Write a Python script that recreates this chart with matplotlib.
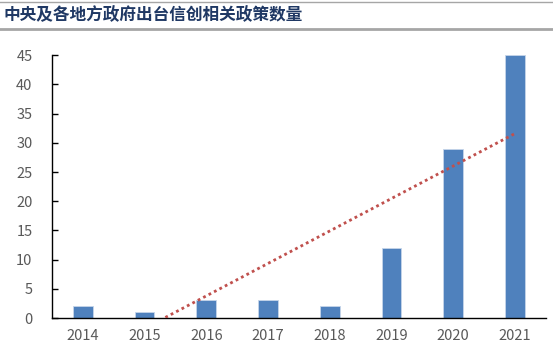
import numpy as np
import matplotlib.pyplot as plt
from matplotlib.lines import Line2D

plt.rcParams['font.family'] = ['Noto Sans CJK SC', 'DejaVu Sans']

years = ['2014', '2015', '2016', '2017', '2018', '2019', '2020', '2021']
policy_counts = [2, 1, 3, 3, 2, 12, 29, 45]
title = '中央及各地方政府出台信创相关政策数量'

fig = plt.figure(figsize=(5.53, 3.49), dpi=100)
ax = fig.add_axes([0.094, 0.0888, 0.893, 0.753])

x = np.arange(len(years))
ax.bar(x, policy_counts, width=0.32, color='#4F81BD', edgecolor='#C6D5EA', linewidth=0.6, zorder=2)

# linear trendline as in Excel
k, b = np.polyfit(x + 1, policy_counts, 1)
xt = np.linspace(x[0], x[-1], 200)
yt = k * (xt + 1) + b
mask = yt >= 0
ax.plot(xt[mask], yt[mask], color='#C0504D', linestyle=(0, (1, 1.2)), linewidth=2.0, zorder=3)

ax.set_xlim(-0.5, len(years) - 0.5)
ax.set_ylim(0, 45)
ax.set_yticks(range(0, 50, 5))
ax.set_xticks(x)
ax.set_xticklabels(years)

for s in ['top', 'right']:
    ax.spines[s].set_visible(False)
ax.spines['left'].set_linewidth(1.0)
ax.spines['bottom'].set_linewidth(1.0)
ax.tick_params(axis='y', direction='in', length=4, width=1.0, pad=14, labelsize=10.5, labelcolor='#595959')
ax.tick_params(axis='x', length=0, pad=8, labelsize=10.5, labelcolor='#595959')

fig.text(0.006, 0.957, title, fontsize=12, fontweight='semibold', color='#1F3864', va='center', ha='left')
fig.add_artist(Line2D([0, 1], [0.994, 0.994], color='#A6A6A6', linewidth=1.0, transform=fig.transFigure))
fig.add_artist(Line2D([0, 1], [0.917, 0.917], color='#A6A6A6', linewidth=2.0, transform=fig.transFigure))

fig.savefig('out.png', dpi=100)
